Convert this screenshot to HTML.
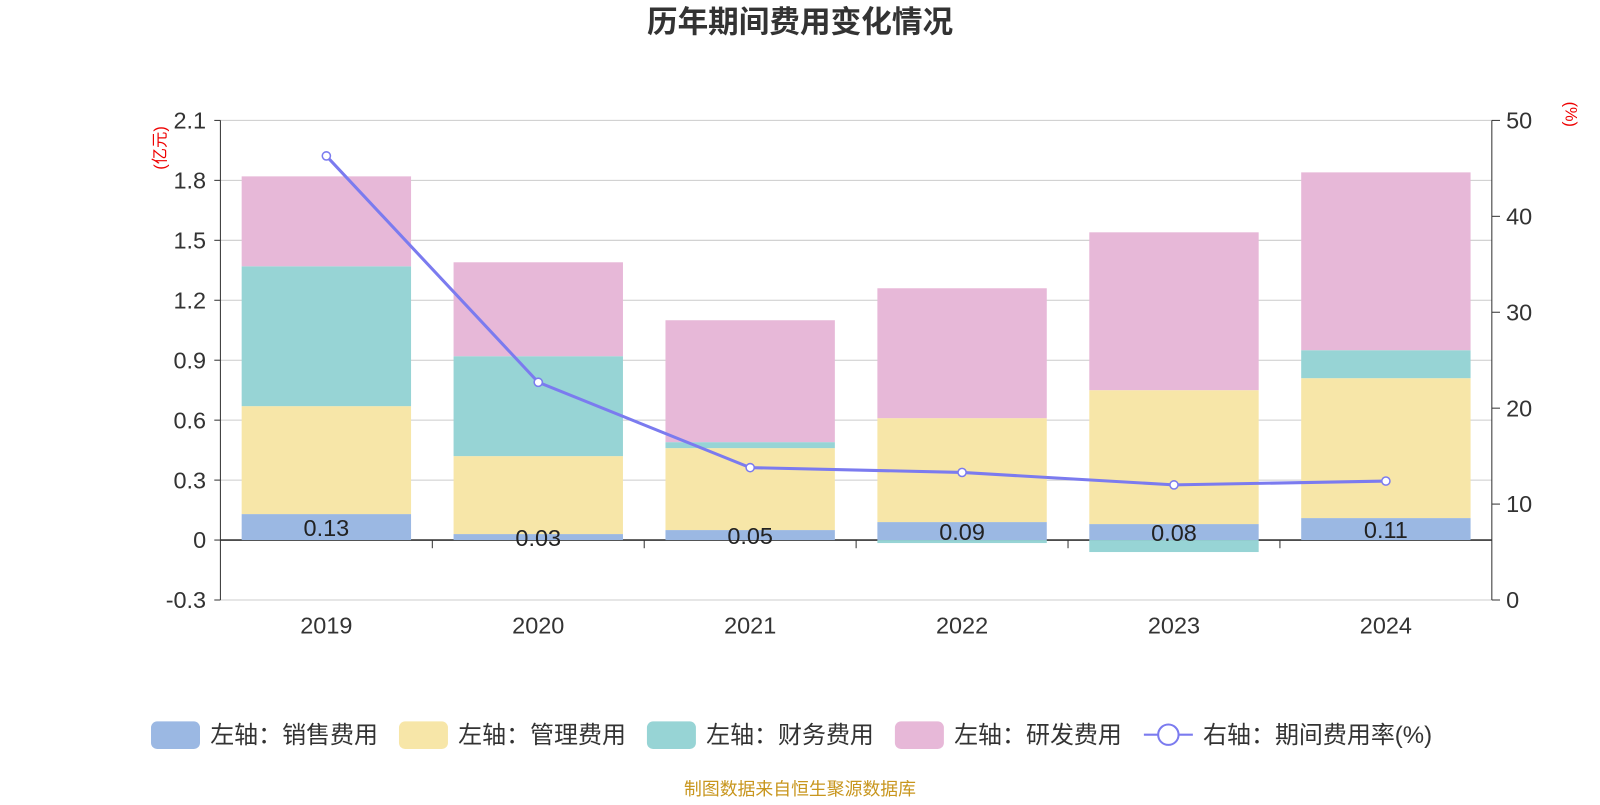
<!DOCTYPE html>
<html><head><meta charset="utf-8"><style>
body{margin:0;background:#fff;width:1600px;height:800px;overflow:hidden;font-family:"Liberation Sans","Noto Sans CJK SC",sans-serif}
</style></head><body>
<svg id="c" width="1600" height="800" viewBox="0 0 1568 784" xmlns="http://www.w3.org/2000/svg" font-family="Liberation Sans, Noto Sans CJK SC, sans-serif">
<text x="784" y="32" text-anchor="middle" font-size="30" font-weight="bold" fill="#333">历年期间费用变化情况</text>
<text transform="translate(162,145) rotate(-90)" text-anchor="middle" font-size="16" fill="#e00">(亿元)</text>
<text transform="translate(1534,112) rotate(90)" text-anchor="middle" font-size="16" fill="#e00">(%)</text>
<g id="grid"></g><g id="bars"></g><g id="axes"></g><g id="line"></g><g id="legend"></g>
<text x="784" y="779" text-anchor="middle" font-size="17.5" fill="#c8961e">制图数据来自恒生聚源数据库</text>
</svg>
<script>
const years=["2019","2020","2021","2022","2023","2024"];
const sales=[0.13,0.03,0.05,0.09,0.08,0.11];
const admin=[0.54,0.39,0.41,0.52,0.67,0.70];
const finance=[0.70,0.50,0.03,-0.015,-0.06,0.14];
const rnd=[0.45,0.47,0.61,0.65,0.79,0.89];
const rate=[46.3,22.7,13.8,13.3,12.0,12.4];
const leftTicks=[-0.3,0,0.3,0.6,0.9,1.2,1.5,1.8,2.1];
const rightTicks=[0,10,20,30,40,50];
const NS="http://www.w3.org/2000/svg";
const X0=216,X1=1462,YT=118,YB=588;
const yL=v=>YB-(v+0.3)/2.4*(YB-YT);
const yR=v=>YB-v/50*(YB-YT);
const bw=(X1-X0)/years.length;
const xc=i=>X0+bw*(i+0.5);
function mk(tag,attrs,parent,txt){const e=document.createElementNS(NS,tag);for(const k in attrs)e.setAttribute(k,attrs[k]);if(txt!=null)e.textContent=txt;document.getElementById(parent).appendChild(e);return e;}
leftTicks.forEach(t=>{
 let g=mk('line',{x1:X0,x2:X1,y1:yL(t),y2:yL(t),stroke:t===0?'#333':'#ccc','stroke-width':t===0?1.5:1},'grid');
 
 
 let l=mk('text',{x:X0-14,y:yL(t)+8,'text-anchor':'end','font-size':23,fill:'#333'},'axes',t===0?'0':t.toFixed(1));
 
 
 mk('line',{x1:X0-6,x2:X0,y1:yL(t),y2:yL(t),stroke:'#333'},'axes');
});
mk('line',{x1:X0,x2:X0,y1:YT,y2:YB,stroke:'#333'},'axes');
mk('line',{x1:X1,x2:X1,y1:YT,y2:YB,stroke:'#333'},'axes');
rightTicks.forEach(t=>{
 mk('line',{x1:X1,x2:X1+8,y1:yR(t),y2:yR(t),stroke:'#333'},'axes');
 let l=mk('text',{x:X1+14,y:yR(t)+8,'font-size':23,fill:'#333'},'axes',String(t));
 
 
});
years.forEach((y,i)=>{
 if(i>0)mk('line',{x1:X0+bw*i,x2:X0+bw*i,y1:yL(0),y2:yL(0)+8,stroke:'#333'},'axes');
 let l=mk('text',{x:xc(i),y:621,'text-anchor':'middle','font-size':23,fill:'#333'},'axes',y);
 
 
});
const series=[[sales,'#9bb8e3','sales'],[admin,'#f7e6a8','admin'],[finance,'#97d4d5','finance'],[rnd,'#e7b8d8','rnd']];
const bwid=166;
years.forEach((y,i)=>{
 let pos=0,neg=0;
 series.forEach(([arr,col,nm])=>{
  const v=arr[i];let a,b;
  if(v>=0){a=pos;b=pos+v;pos=b;}else{a=neg;b=neg+v;neg=b;}
  const r=mk('rect',{x:xc(i)-bwid/2,y:Math.min(yL(a),yL(b)),width:bwid,height:Math.abs(yL(a)-yL(b)),fill:col},'bars');
  
  
 });
 const t=mk('text',{x:xc(i),y:yL(sales[i]/2)+9,'text-anchor':'middle','font-size':23,fill:'#222'},'bars',sales[i].toFixed(2));
 
 
});
const p=mk('polyline',{points:rate.map((v,i)=>xc(i)+','+yR(v)).join(' '),fill:'none',stroke:'#7b7bef','stroke-width':3},'line');


rate.forEach((v,i)=>{
 const c=mk('circle',{cx:xc(i),cy:yR(v),r:4,fill:'#fff',stroke:'#7b7bef','stroke-width':1.5},'line');
 
 
});
const leg=[['#9bb8e3','左轴：销售费用',148],['#f7e6a8','左轴：管理费用',391],['#97d4d5','左轴：财务费用',634],['#e7b8d8','左轴：研发费用',877]];
leg.forEach(([c,t,x])=>{
 const r=mk('rect',{x:x,y:707,width:48,height:27,rx:6,fill:c},'legend');
 
 
 const tx=mk('text',{x:x+58,y:728,'font-size':23.5,fill:'#333'},'legend',t);
 
 
});
mk('line',{x1:1121,x2:1169,y1:720,y2:720,stroke:'#7b7bef','stroke-width':2},'legend');
mk('circle',{cx:1145,cy:720,r:10,fill:'#fff',stroke:'#7b7bef','stroke-width':2},'legend');
const lt=mk('text',{x:1179,y:728,'font-size':23.5,fill:'#333'},'legend','右轴：期间费用率(%)');


</script>
</body></html>
